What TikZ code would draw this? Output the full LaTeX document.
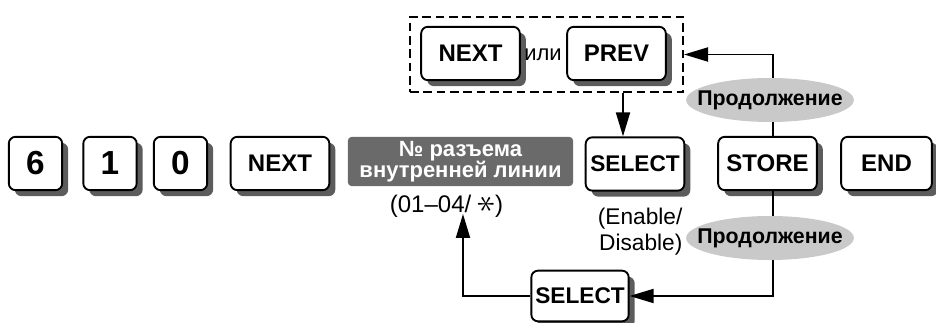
\documentclass[tikz,border=0pt]{standalone}
\usepackage{fontspec}
\setmainfont{Liberation Sans}
\usetikzlibrary{arrows.meta,shadows,shapes.geometric,positioning}
\definecolor{KeyShadow}{HTML}{5C5C5C}
\definecolor{PortGray}{HTML}{6A6A6A}
\definecolor{ContGray}{HTML}{C9C9C9}
\tikzset{
  keybox/.style={
    rounded corners=5pt,
    draw=black,
    fill=white,
    line width=1.4pt,
    minimum width=74pt,
    minimum height=40pt,
    inner sep=0pt,
    font=\fontsize{18}{20}\selectfont\bfseries,
    drop shadow={shadow xshift=4.5pt,shadow yshift=-4.5pt,fill=KeyShadow,opacity=1}
  },
  digitkey/.style={keybox,minimum width=40pt,font=\fontsize{25}{28}\selectfont\bfseries},
  selectkey/.style={keybox,font=\fontsize{17}{20}\selectfont\bfseries},
  portcard/.style={
    rounded corners=3pt,
    fill=PortGray,
    text=white,
    minimum width=169pt,
    minimum height=37pt,
    align=center,
    inner sep=0pt,
    font=\fontsize{16.5}{15.75}\selectfont\bfseries
  },
  contoval/.style={ellipse,fill=ContGray,minimum width=124pt,minimum height=33pt,inner xsep=-10pt,inner ysep=0pt,font=\fontsize{16}{18}\selectfont\bfseries},
  note/.style={inner sep=0pt,font=\fontsize{17}{19.5}\selectfont},
  choicebox/.style={draw=black,line width=1.5pt,dash pattern=on 6.5pt off 3.5pt,minimum width=204.75pt,minimum height=56.25pt,inner sep=0pt},
  arrow/.style={-{Triangle[length=18pt,width=10.5pt]},draw=black,line width=1.4pt}
}

\begin{document}
\begin{tikzpicture}[x=0.75pt,y=-0.75pt]
  \useasboundingbox (0,0) rectangle (936,323);
  % main key sequence
  \node[digitkey] (k6) at (35.5,163.5) {6};
  \node[digitkey] (k1) at (110,163.5) {1};
  \node[digitkey] (k0) at (180.5,163.5) {0};
  \node[keybox] (next) at (280,163.5) {NEXT};
  \node[portcard] (port) at (460.5,161.5) {№ разъема\\внутренней линии};
  \node[note,font=\fontsize{18}{20}\selectfont] (range) at (446.5,206) {(01–04/ \scalebox{1.6}{\rotatebox[origin=c]{90}{$\ast$}})};
  \node[selectkey] (sel) at (635,164) {SELECT};
  \node[note,anchor=north east,align=right] (enable) at ([xshift=-2pt,yshift=-12pt]sel.south east) {(Enable/\\Disable)};
  \node[keybox] (store) at (767.5,163.5) {STORE};
  \node[keybox,minimum width=68pt] (endk) at (886.5,163.5) {END};
  % NEXT or PREV choice
  \node[choicebox] (choice) at (546.5,54.5) {};
  \node[keybox] (nexttop) at (470.5,53.5) {NEXT};
  \node[keybox] (prev) at (616.5,53.5) {PREV};
  \node[note,font=\fontsize{16.5}{18}\selectfont] (ili) at (543,55) {или};
  \node[selectkey,minimum width=73pt,minimum height=38pt] (sel2) at (580,296) {SELECT};
  % loops
  \coordinate (selin) at ([xshift=-9pt]sel.north);
  \coordinate (rangetip) at (463,214);
  \draw[arrow] (choice.south -| selin) -- (selin);
  \draw[arrow] ([xshift=4pt]store.north) |- (choice.east);
  \draw[arrow] ([xshift=4pt]store.south) |- (sel2.east);
  \draw[arrow] (sel2.west) -| (rangetip);
  \node[contoval] (cont1) at (770,100) {Продолжение};
  \node[contoval] (cont2) at (770,238) {Продолжение};
\end{tikzpicture}
\end{document}
